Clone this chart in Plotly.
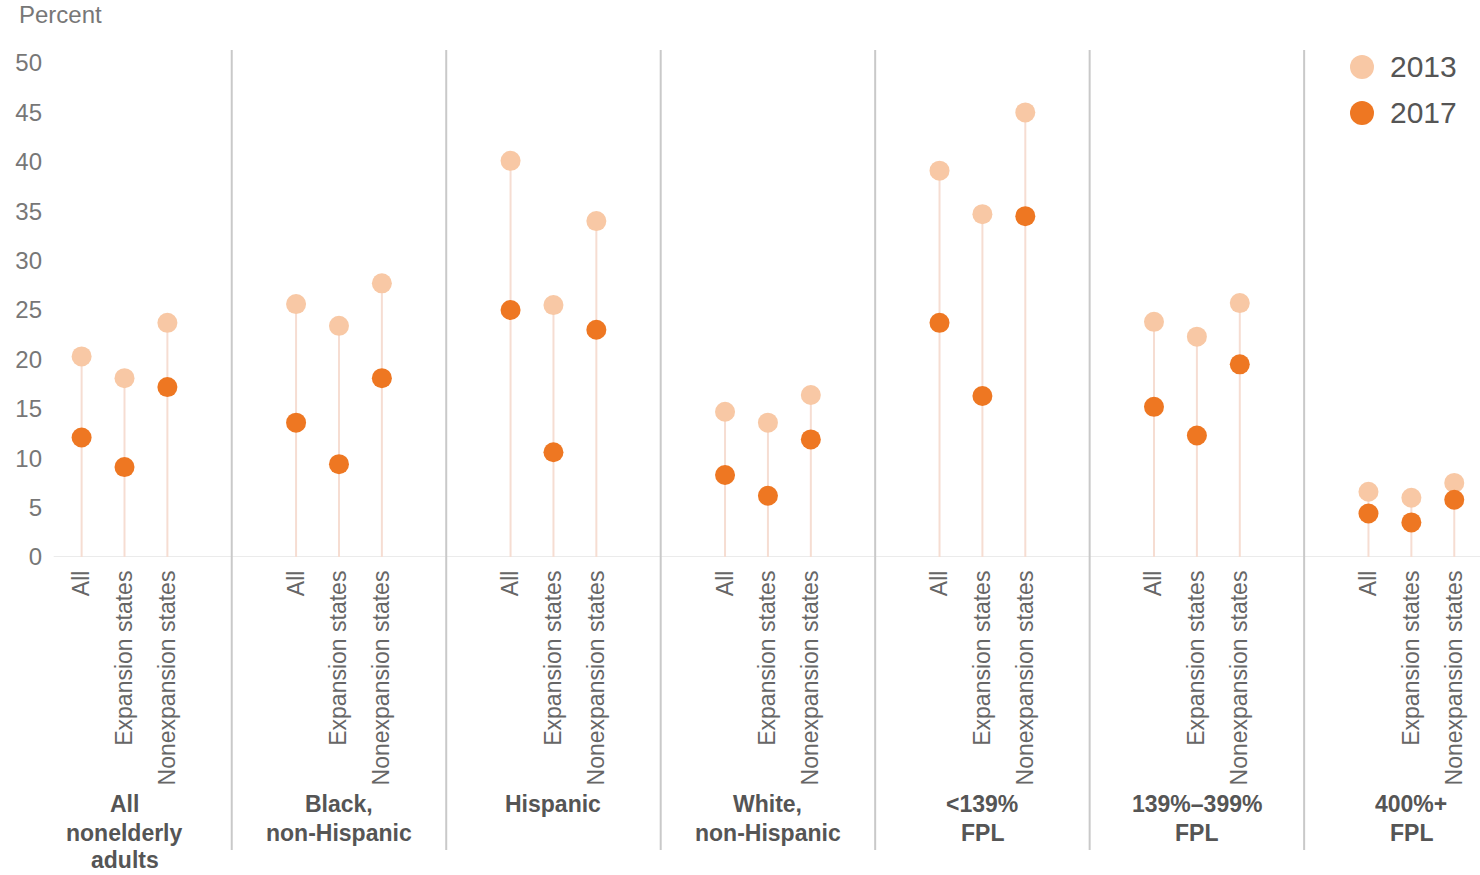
import plotly.graph_objects as go

# Uninsured rate by group, 2013 vs 2017
groups = [["All", "nonelderly", "adults"], ["Black,", "non-Hispanic"], ["Hispanic"],
          ["White,", "non-Hispanic"], ["&lt;139%", "FPL"], ["139%–399%", "FPL"], ["400%+", "FPL"]]
subcats = ["All", "Expansion states", "Nonexpansion states"]

rate_2013 = [20.3, 18.1, 23.7,
             25.6, 23.4, 27.7,
             40.1, 25.5, 34.0,
             14.7, 13.6, 16.4,
             39.1, 34.7, 45.0,
             23.8, 22.3, 25.7,
             6.6, 6.0, 7.5]
rate_2017 = [12.1, 9.1, 17.2,
             13.6, 9.4, 18.1,
             25.0, 10.6, 23.0,
             8.3, 6.2, 11.9,
             23.7, 16.3, 34.5,
             15.2, 12.3, 19.5,
             4.4, 3.5, 5.8]

y_ticks = [0, 5, 10, 15, 20, 25, 30, 35, 40, 45, 50]

C13 = "#F8C8A5"
C17 = "#EE7722"
STEM = "#F6DDD2"
SEP = "#C9C9C9"
FONT = "Liberation Sans, Arial, sans-serif"

# plot-area geometry in pixels (used to place paper-referenced extras)
PLOT_L, PLOT_W = 43, 1437
PLOT_T, PLOT_H = 63, 494


def py(pix):
    """Convert a pixel row of the page into paper y."""
    return (PLOT_T + PLOT_H - pix) / PLOT_H


def px(pix):
    return (pix - PLOT_L) / PLOT_W


# x positions: 5 slots per group, the three sub-categories in slots 1..3
xpos = []
labels = []
for g in range(len(groups)):
    for k, s in enumerate(subcats):
        xpos.append(g * 5 + k + 1)
        labels.append(s)

fig = go.Figure()

# stems from zero up to the 2013 value
sx, sy = [], []
for x, v in zip(xpos, rate_2013):
    sx += [x, x, None]
    sy += [0, v, None]
fig.add_trace(go.Scatter(x=sx, y=sy, mode="lines",
                         line=dict(color=STEM, width=2),
                         hoverinfo="skip", showlegend=False))

fig.add_trace(go.Scatter(x=xpos, y=rate_2013, mode="markers", name="2013",
                         marker=dict(color=C13, size=20), showlegend=False))
fig.add_trace(go.Scatter(x=xpos, y=rate_2017, mode="markers", name="2017",
                         marker=dict(color=C17, size=20), showlegend=False))

shapes = []
# baseline
shapes.append(dict(type="line", xref="x", yref="y", x0=0.35, x1=33.6, y0=0, y1=0,
                   line=dict(color="#E4E4E4", width=1.5), layer="below"))
# group separators
for g in range(1, len(groups)):
    xs = g * 5 - 0.5
    shapes.append(dict(type="line", xref="x", yref="paper", x0=xs, x1=xs,
                       y0=py(850), y1=py(50), line=dict(color=SEP, width=2)))

# legend
annotations = []
for ypix, col, txt in [(67, C13, "2013"), (113, C17, "2017")]:
    shapes.append(dict(type="circle", xref="paper", yref="paper",
                       xsizemode="pixel", ysizemode="pixel",
                       xanchor=px(1362), yanchor=py(ypix),
                       x0=-12, x1=12, y0=-12, y1=12,
                       fillcolor=col, line=dict(width=0)))
    annotations.append(dict(xref="paper", yref="paper", x=px(1388), y=py(ypix),
                            text=txt, showarrow=False, xanchor="left", yanchor="middle",
                            font=dict(family=FONT, size=30, color="#555555")))

# group labels below the sub-category ticks, one annotation per line
line_rows = [804, 833, 860]
for g, lines in enumerate(groups):
    for i, ln in enumerate(lines):
        annotations.append(dict(xref="x", yref="paper", x=g * 5 + 2, y=py(line_rows[i]),
                                text="<b>" + ln + "</b>", showarrow=False,
                                xanchor="center", yanchor="middle",
                                font=dict(family=FONT, size=23, color="#555555")))

annotations.append(dict(xref="paper", yref="paper", x=px(17), y=py(15),
                        text="Percent", showarrow=False, xanchor="left", yanchor="middle",
                        font=dict(family=FONT, size=24, color="#777777")))

fig.update_layout(
    width=1480, height=875,
    margin=dict(l=PLOT_L, r=0, t=PLOT_T, b=875 - PLOT_T - PLOT_H),
    paper_bgcolor="white", plot_bgcolor="white",
    font=dict(family=FONT, color="#666666"),
    shapes=shapes, annotations=annotations,
    showlegend=False,
)
fig.update_xaxes(range=[0.1, 33.6], tickmode="array", tickvals=xpos, ticktext=labels,
                 tickangle=-90, tickfont=dict(size=23, color="#666666"),
                 ticklabelstandoff=8,
                 showgrid=False, zeroline=False, showline=False, ticks="")
fig.update_yaxes(range=[0, 50], tickmode="array", tickvals=y_ticks,
                 ticktext=[str(t) for t in y_ticks],
                 tickfont=dict(size=24, color="#777777"),
                 showgrid=False, zeroline=False, showline=False, ticks="")

fig.write_html("out.html")
